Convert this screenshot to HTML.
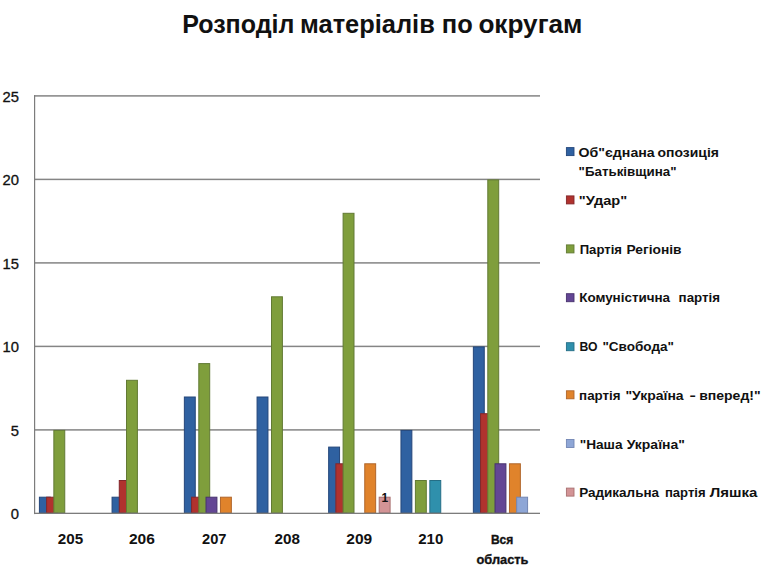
<!DOCTYPE html>
<html lang="uk"><head><meta charset="utf-8"><title>Розподіл матеріалів по округам</title>
<style>
html,body{margin:0;padding:0;background:#fff;}
body{width:775px;height:577px;overflow:hidden;position:relative;}
svg{display:block;position:absolute;left:0;top:0;}
text{font-family:"Liberation Sans",Arial,sans-serif;font-weight:bold;fill:#111;}
.title{font-size:25px;}
.ax text{font-size:14px;}
.yl{font-size:14.8px !important;font-weight:normal !important;stroke:#111;stroke-width:0.3px;}
.lg text{font-size:12.6px;}
.dl{font-size:12px;}
</style></head>
<body>
<svg width="775" height="577" viewBox="0 0 775 577">
<text class="title" x="182.2" y="32.5" textLength="112.2" lengthAdjust="spacingAndGlyphs">Розподіл</text>
<text class="title" x="300.1" y="32.5" textLength="134.7" lengthAdjust="spacingAndGlyphs">матеріалів</text>
<text class="title" x="441.8" y="32.5" textLength="30.9" lengthAdjust="spacingAndGlyphs">по</text>
<text class="title" x="478.4" y="32.5" textLength="104.1" lengthAdjust="spacingAndGlyphs">округам</text>
<g>
<rect x="34" y="429.15" width="506" height="1.5" fill="#858585"/>
<rect x="34" y="345.65" width="506" height="1.5" fill="#858585"/>
<rect x="34" y="262.15" width="506" height="1.5" fill="#858585"/>
<rect x="34" y="178.65" width="506" height="1.5" fill="#858585"/>
<rect x="34" y="95.15" width="506" height="1.5" fill="#858585"/>
<rect x="39.41" y="497.2" width="10.9" height="15.7" fill="#2F61A1" stroke="#24467A" stroke-width="1"/>
<rect x="46.63" y="497.2" width="10.9" height="15.7" fill="#B0322E" stroke="#82262A" stroke-width="1"/>
<rect x="53.85" y="430.4" width="10.9" height="82.5" fill="#7F9E3C" stroke="#627A34" stroke-width="1"/>
<rect x="112.06" y="497.2" width="10.9" height="15.7" fill="#2F61A1" stroke="#24467A" stroke-width="1"/>
<rect x="119.28" y="480.5" width="10.9" height="32.4" fill="#B0322E" stroke="#82262A" stroke-width="1"/>
<rect x="126.5" y="380.3" width="10.9" height="132.6" fill="#7F9E3C" stroke="#627A34" stroke-width="1"/>
<rect x="184.36" y="397" width="10.9" height="115.9" fill="#2F61A1" stroke="#24467A" stroke-width="1"/>
<rect x="191.58" y="497.2" width="10.9" height="15.7" fill="#B0322E" stroke="#82262A" stroke-width="1"/>
<rect x="198.8" y="363.6" width="10.9" height="149.3" fill="#7F9E3C" stroke="#627A34" stroke-width="1"/>
<rect x="206.02" y="497.2" width="10.9" height="15.7" fill="#634694" stroke="#48326E" stroke-width="1"/>
<rect x="220.46" y="497.2" width="10.9" height="15.7" fill="#E0832B" stroke="#B0652A" stroke-width="1"/>
<rect x="257.06" y="397" width="10.9" height="115.9" fill="#2F61A1" stroke="#24467A" stroke-width="1"/>
<rect x="271.5" y="296.8" width="10.9" height="216.1" fill="#7F9E3C" stroke="#627A34" stroke-width="1"/>
<rect x="328.66" y="447.1" width="10.9" height="65.8" fill="#2F61A1" stroke="#24467A" stroke-width="1"/>
<rect x="335.88" y="463.8" width="10.9" height="49.1" fill="#B0322E" stroke="#82262A" stroke-width="1"/>
<rect x="343.1" y="213.3" width="10.9" height="299.6" fill="#7F9E3C" stroke="#627A34" stroke-width="1"/>
<rect x="364.76" y="463.8" width="10.9" height="49.1" fill="#E0832B" stroke="#B0652A" stroke-width="1"/>
<rect x="379.2" y="497.2" width="10.9" height="15.7" fill="#D39496" stroke="#A87070" stroke-width="1"/>
<rect x="400.96" y="430.4" width="10.9" height="82.5" fill="#2F61A1" stroke="#24467A" stroke-width="1"/>
<rect x="415.4" y="480.5" width="10.9" height="32.4" fill="#7F9E3C" stroke="#627A34" stroke-width="1"/>
<rect x="429.84" y="480.5" width="10.9" height="32.4" fill="#2F90AC" stroke="#246E86" stroke-width="1"/>
<rect x="473.36" y="346.9" width="10.9" height="166" fill="#2F61A1" stroke="#24467A" stroke-width="1"/>
<rect x="480.58" y="413.7" width="10.9" height="99.2" fill="#B0322E" stroke="#82262A" stroke-width="1"/>
<rect x="487.8" y="179.9" width="10.9" height="333" fill="#7F9E3C" stroke="#627A34" stroke-width="1"/>
<rect x="495.02" y="463.8" width="10.9" height="49.1" fill="#634694" stroke="#48326E" stroke-width="1"/>
<rect x="509.46" y="463.8" width="10.9" height="49.1" fill="#E0832B" stroke="#B0652A" stroke-width="1"/>
<rect x="516.68" y="497.2" width="10.9" height="15.7" fill="#8EA6D6" stroke="#7286B4" stroke-width="1"/>
<rect x="34" y="95.2" width="1.2" height="418.9" fill="#7C7C7C"/>
<rect x="34" y="512.7" width="506" height="1.3" fill="#7C7C7C"/>
</g>
<g class="ax">
<text class="yl" x="18.9" y="519.3" text-anchor="end">0</text>
<text class="yl" x="18.9" y="435.8" text-anchor="end">5</text>
<text class="yl" x="18.9" y="352.3" text-anchor="end">10</text>
<text class="yl" x="18.9" y="268.8" text-anchor="end">15</text>
<text class="yl" x="18.9" y="185.3" text-anchor="end">20</text>
<text class="yl" x="18.9" y="101.8" text-anchor="end">25</text>
<text x="57.8" y="544.2" textLength="25.4" lengthAdjust="spacingAndGlyphs">205</text>
<text x="128.9" y="544.2" textLength="25.9" lengthAdjust="spacingAndGlyphs">206</text>
<text x="202" y="544.2" textLength="24.4" lengthAdjust="spacingAndGlyphs">207</text>
<text x="274.5" y="544.2" textLength="25.4" lengthAdjust="spacingAndGlyphs">208</text>
<text x="346.3" y="544.2" textLength="25.9" lengthAdjust="spacingAndGlyphs">209</text>
<text x="418.2" y="544.2" textLength="25.1" lengthAdjust="spacingAndGlyphs">210</text>
<text style="font-size:12.3px;stroke:#111;stroke-width:0.35px" x="490.9" y="544.2" textLength="22.4" lengthAdjust="spacingAndGlyphs">Вся</text>
<text style="font-size:13.6px;stroke:#111;stroke-width:0.35px" x="476.5" y="563.6" textLength="52" lengthAdjust="spacingAndGlyphs">область</text>
</g>
<text class="dl" x="384.8" y="501.6" text-anchor="middle">1</text>
<g class="lg">
<rect x="566.4" y="147.6" width="7.6" height="8.0" fill="#2F61A1" stroke="#24467A" stroke-width="0.9"/>
<text x="578.6" y="156.7" textLength="76.1" lengthAdjust="spacingAndGlyphs">Об&quot;єднана</text>
<text x="657.5" y="156.7" textLength="61.4" lengthAdjust="spacingAndGlyphs">опозиція</text>
<rect x="566.4" y="195.9" width="7.6" height="8.0" fill="#B0322E" stroke="#82262A" stroke-width="0.9"/>
<text x="578.8" y="205.1" textLength="48.4" lengthAdjust="spacingAndGlyphs">&quot;Удар&quot;</text>
<rect x="566.4" y="244.9" width="7.6" height="8.0" fill="#7F9E3C" stroke="#627A34" stroke-width="0.9"/>
<text x="579.7" y="253.6" textLength="42.3" lengthAdjust="spacingAndGlyphs">Партія</text>
<text x="626.5" y="253.6" textLength="55" lengthAdjust="spacingAndGlyphs">Регіонів</text>
<rect x="566.4" y="293.7" width="7.6" height="8.0" fill="#634694" stroke="#48326E" stroke-width="0.9"/>
<text x="579.2" y="302.4" textLength="90.9" lengthAdjust="spacingAndGlyphs">Комуністична</text>
<text x="678.6" y="302.4" textLength="41.4" lengthAdjust="spacingAndGlyphs">партія</text>
<rect x="566.4" y="342.7" width="7.6" height="8.0" fill="#2F90AC" stroke="#246E86" stroke-width="0.9"/>
<text x="579.6" y="351.2" textLength="18" lengthAdjust="spacingAndGlyphs">ВО</text>
<text x="602.4" y="351.2" textLength="71.6" lengthAdjust="spacingAndGlyphs">&quot;Свобода&quot;</text>
<rect x="566.4" y="390.8" width="7.6" height="8.0" fill="#E0832B" stroke="#B0652A" stroke-width="0.9"/>
<text x="579.1" y="399.8" textLength="41.5" lengthAdjust="spacingAndGlyphs">партія</text>
<text x="625.4" y="399.8" textLength="58.2" lengthAdjust="spacingAndGlyphs">&quot;Україна</text>
<text x="689.5" y="399.8" textLength="6.4" lengthAdjust="spacingAndGlyphs">-</text>
<text x="699.2" y="399.8" textLength="61.4" lengthAdjust="spacingAndGlyphs">вперед!&quot;</text>
<rect x="566.4" y="439.5" width="7.6" height="8.0" fill="#8EA6D6" stroke="#7286B4" stroke-width="0.9"/>
<text x="579.7" y="448.5" textLength="42.9" lengthAdjust="spacingAndGlyphs">&quot;Наша</text>
<text x="626.7" y="448.5" textLength="58.2" lengthAdjust="spacingAndGlyphs">Україна&quot;</text>
<rect x="566.4" y="488.1" width="7.6" height="8.0" fill="#D39496" stroke="#A87070" stroke-width="0.9"/>
<text x="579.2" y="497.0" textLength="79.9" lengthAdjust="spacingAndGlyphs">Радикальна</text>
<text x="664.9" y="497.0" textLength="40.7" lengthAdjust="spacingAndGlyphs">партія</text>
<text x="709.8" y="497.0" textLength="47.6" lengthAdjust="spacingAndGlyphs">Ляшка</text>
<text x="578.6" y="175.9" textLength="97.9" lengthAdjust="spacingAndGlyphs">&quot;Батьківщина&quot;</text>
</g>
</svg>
</body></html>
